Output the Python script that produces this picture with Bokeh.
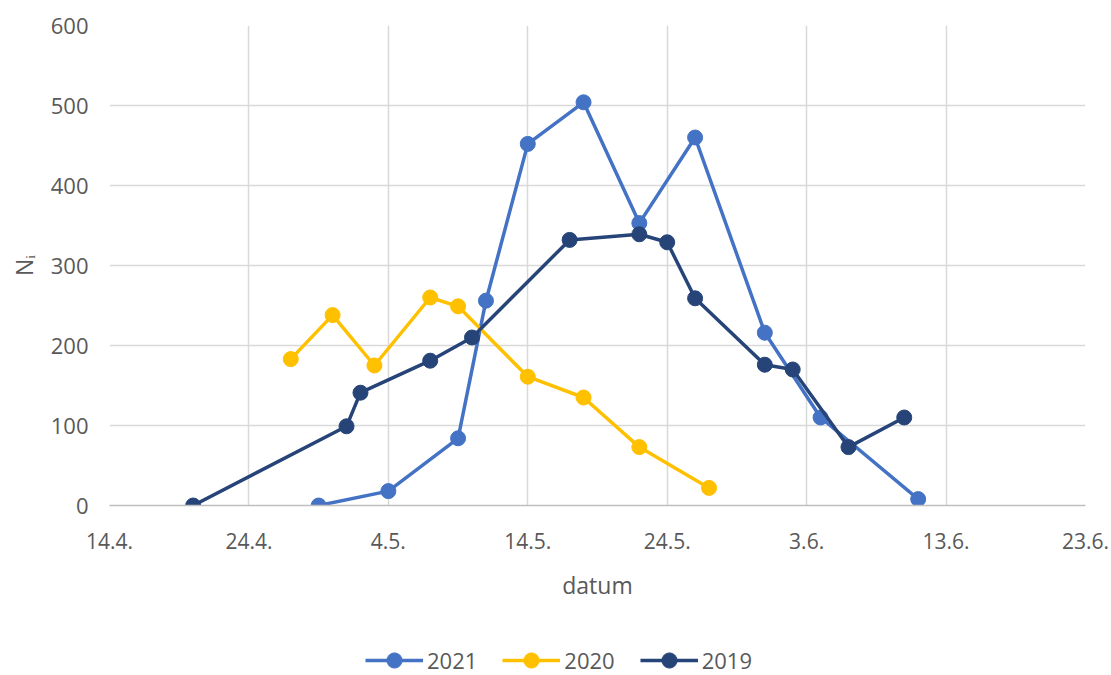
from datetime import datetime

from bokeh.embed import file_html
from bokeh.layouts import column
from bokeh.models import FixedTicker, Legend, LegendItem, Range1d
from bokeh.plotting import figure
from bokeh.resources import INLINE

# Observation dates (day.month.) and counts N_i per season
dates_2021 = ["29.4.", "4.5.", "9.5.", "11.5.", "14.5.", "18.5.", "22.5.",
              "26.5.", "31.5.", "4.6.", "11.6."]
counts_2021 = [0, 18, 84, 256, 452, 504, 353, 460, 216, 110, 8]

dates_2020 = ["27.4.", "30.4.", "3.5.", "7.5.", "9.5.", "14.5.", "18.5.",
              "22.5.", "27.5."]
counts_2020 = [183, 238, 175, 260, 249, 161, 135, 73, 22]

dates_2019 = ["20.4.", "1.5.", "2.5.", "7.5.", "10.5.", "17.5.", "22.5.",
              "24.5.", "26.5.", "31.5.", "2.6.", "6.6.", "10.6."]
counts_2019 = [0, 99, 141, 181, 210, 332, 339, 329, 259, 176, 170, 73, 110]

x_tick_labels = ["14.4.", "24.4.", "4.5.", "14.5.", "24.5.", "3.6.", "13.6.", "23.6."]
y_ticks = [0, 100, 200, 300, 400, 500, 600]

FONT = "Open Sans"
TEXT = "#595959"
GRID = "#d9d9d9"


def day_of_season(labels):
    """Days elapsed since the first tick date (14.4.), on a common calendar."""
    base = datetime.strptime(x_tick_labels[0] + "2021", "%d.%m.%Y")
    return [(datetime.strptime(s + "2021", "%d.%m.%Y") - base).days for s in labels]


x_ticks = day_of_season(x_tick_labels)

series = [
    ("2021", dates_2021, counts_2021, "#4472C4"),
    ("2020", dates_2020, counts_2020, "#FFC000"),
    ("2019", dates_2019, counts_2019, "#264478"),
]

# ---- main chart -------------------------------------------------------------
p = figure(
    width=1111, height=637,
    min_border_left=109, min_border_right=26, min_border_top=25, min_border_bottom=132,
    x_range=Range1d(x_ticks[0], x_ticks[-1]),
    y_range=Range1d(y_ticks[0], y_ticks[-1]),
    output_backend="svg", toolbar_location=None,
)
p.outline_line_color = None
p.background_fill_color = "white"
p.border_fill_color = "white"

p.xaxis.ticker = FixedTicker(ticks=x_ticks)
p.xaxis.major_label_overrides = {t: lab for t, lab in zip(x_ticks, x_tick_labels)}
p.yaxis.ticker = FixedTicker(ticks=y_ticks)

for ax in (p.xaxis, p.yaxis):
    ax.major_tick_line_color = None
    ax.minor_tick_line_color = None
    ax.major_label_text_font = FONT
    ax.major_label_text_color = TEXT
    ax.axis_label_text_font = FONT
    ax.axis_label_text_font_size = "23px"
    ax.axis_label_text_color = TEXT
    ax.axis_label_text_font_style = "normal"

p.xaxis.major_label_text_font_size = "21px"
p.yaxis.major_label_text_font_size = "22px"

p.xaxis.axis_line_color = "#bfbfbf"
p.xaxis.axis_line_width = 1.5
p.xaxis.major_label_standoff = 21
p.xaxis.axis_label = "datum"
p.xaxis.axis_label_standoff = 17

p.yaxis.axis_line_color = None
p.yaxis.major_label_standoff = 15
p.yaxis.axis_label = "Nᵢ"
p.yaxis.axis_label_standoff = 8

p.xgrid.grid_line_color = GRID
p.ygrid.grid_line_color = GRID
p.xgrid.grid_line_width = 1.5
p.ygrid.grid_line_width = 1.5

for name, dates, counts, color in series:
    xs = day_of_season(dates)
    p.line(xs, counts, line_color=color, line_width=3.5)
    p.scatter(xs, counts, size=15, marker="circle", fill_color=color, line_color=color)

# ---- legend strip underneath ------------------------------------------------
# The same series are drawn here outside the visible range, so only the
# legend entries show.
lf = figure(
    width=1111, height=38, min_border=0,
    x_range=Range1d(-2, -1), y_range=Range1d(-2, -1),
    x_axis_type=None, y_axis_type=None,
    output_backend="svg", toolbar_location=None,
)
lf.outline_line_color = None
lf.background_fill_color = "white"
lf.border_fill_color = "white"

items = []
for name, dates, counts, color in series:
    xs = day_of_season(dates)
    ln = lf.line(xs, counts, line_color=color, line_width=3.5)
    pts = lf.scatter(xs, counts, size=15, marker="circle", fill_color=color, line_color=color)
    items.append(LegendItem(label=name, renderers=[ln, pts]))

legend = Legend(
    items=items, orientation="horizontal", location=(256, -4),
    label_text_font=FONT, label_text_font_size="22px", label_text_color=TEXT,
    glyph_width=58, glyph_height=38, spacing=25, label_standoff=4,
    border_line_color=None, background_fill_alpha=0,
    margin=0, padding=0,
)
lf.add_layout(legend)

open("out.html", "w").write(file_html(column(p, lf), INLINE))
